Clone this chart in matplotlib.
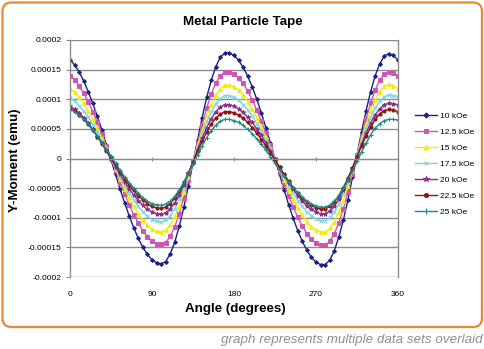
import numpy as np
import matplotlib
matplotlib.use("Agg")
import matplotlib.pyplot as plt
from matplotlib.patches import FancyBboxPatch

# ---- data (Y-moment in micro-emu, every 5 degrees) ----
angle = list(range(0, 361, 5))
series_labels = ["10 kOe", "12.5 kOe", "15 kOe", "17.5 kOe", "20 kOe", "22.5 kOe", "25 kOe"]
y_10 = [167,158,146,131,113,93,71,48,23,-2,-27,-52,-75,-97,-117,-135,-150,-162,-171,-176,-178,-174,-161,-141,-114,-82,-46,-7,31,69,103,132,155,171,178,178,174,166,154,139,121,100,77,52,26,0,-27,-53,-78,-101,-122,-140,-155,-167,-175,-179,-179,-172,-156,-133,-104,-70,-32,6,45,81,113,140,160,173,177,174,166]
y_12 = [140,133,123,110,96,79,61,41,21,0,-20,-41,-60,-78,-95,-109,-122,-132,-139,-144,-145,-142,-131,-115,-93,-66,-37,-5,26,57,85,109,127,140,146,146,143,136,127,114,99,82,63,43,22,0,-22,-43,-63,-82,-99,-114,-127,-136,-143,-146,-146,-140,-127,-109,-85,-57,-26,6,37,67,94,116,132,143,146,144,139]
y_15 = [118,112,103,93,80,66,51,34,17,0,-18,-35,-52,-67,-81,-94,-104,-113,-119,-123,-124,-121,-112,-98,-80,-57,-32,-5,22,47,71,91,107,118,124,124,121,115,107,96,84,69,53,36,18,0,-18,-36,-53,-69,-84,-96,-107,-115,-121,-124,-124,-118,-107,-91,-71,-47,-21,6,33,58,81,99,113,122,125,123,118]
y_17 = [102,97,89,80,70,57,44,30,15,0,-16,-30,-45,-58,-70,-81,-90,-97,-103,-106,-107,-104,-97,-85,-69,-50,-28,-5,18,40,61,78,92,101,106,106,103,98,91,82,72,59,46,31,16,1,-15,-30,-45,-58,-71,-81,-90,-97,-102,-105,-105,-100,-91,-77,-60,-40,-17,6,28,50,69,85,97,104,107,106,104]
y_20 = [88,83,77,69,60,49,37,25,12,-1,-14,-27,-40,-51,-62,-71,-79,-86,-90,-93,-94,-92,-85,-75,-61,-44,-25,-6,15,34,52,67,79,87,91,91,88,84,78,70,61,50,39,26,13,-1,-15,-28,-41,-52,-63,-72,-80,-86,-90,-93,-93,-89,-81,-69,-53,-36,-16,4,24,43,60,74,84,91,93,92,91]
y_22 = [84,80,74,67,58,48,37,26,14,2,-10,-22,-34,-45,-54,-63,-70,-76,-81,-83,-84,-82,-76,-67,-55,-40,-24,-6,12,29,44,58,68,75,79,79,77,73,68,61,52,43,32,21,9,-3,-15,-27,-38,-49,-58,-67,-74,-79,-83,-85,-85,-81,-74,-63,-49,-33,-16,3,21,38,53,66,75,81,83,82,79]
y_25 = [83,79,73,66,58,48,38,27,15,4,-8,-20,-31,-41,-50,-59,-66,-72,-76,-78,-79,-77,-72,-64,-53,-40,-25,-10,6,21,35,47,56,63,66,66,64,61,56,49,42,33,24,14,3,-8,-19,-30,-40,-49,-58,-65,-72,-77,-80,-82,-82,-79,-72,-63,-50,-36,-21,-5,11,26,40,51,59,64,66,66,65]
x_ticks = [0, 90, 180, 270, 360]
y_ticks = [0.0002, 0.00015, 0.0001, 0.00005, 0, -0.00005, -0.0001, -0.00015, -0.0002]
y_ticklabels = ["0.0002", "0.00015", "0.0001", "0.00005", "0", "-0.00005", "-0.0001", "-0.00015", "-0.0002"]

series = [y_10, y_12, y_15, y_17, y_20, y_22, y_25]
colors = ["#1C2280", "#CF55B5", "#F2EE00", "#7AD3E6", "#8E2E8E", "#8A1818", "#178A8A"]
markers = ["D", "s", "^", "x", "*", "o", "+"]
msizes = [2.0, 2.2, 2.6, 2.6, 3.0, 2.3, 2.8]

plt.rcParams["font.family"] = ["Liberation Sans", "DejaVu Sans"]
W, H = 485, 349
fig = plt.figure(figsize=(W / 100, H / 100), dpi=100)

# background frame in pixel coordinates
bg = fig.add_axes([0, 0, 1, 1])
bg.set_xlim(0, W)
bg.set_ylim(H, 0)
bg.axis("off")
bg.add_patch(FancyBboxPatch((2.5, 2.5), 479.5, 324.5,
                            boxstyle="round,pad=0,rounding_size=9",
                            fc="white", ec="#E98A2E", lw=1.6))

ax = fig.add_axes([70 / W, 1 - 277 / H, 328 / W, 237 / H])
ax.set_zorder(2)
ax.patch.set_alpha(0)
for yv, c, m, ms, lab in zip(series, colors, markers, msizes, series_labels):
    ax.plot(angle, np.array(yv) * 1e-6, color=c, lw=1.0, marker=m, ms=ms,
            mew=0.7, mfc=c, mec=c, label=lab)

ax.set_xlim(0, 360)
ax.set_ylim(-0.0002, 0.0002)
ax.set_yticks(y_ticks)
ax.set_yticklabels(y_ticklabels, fontsize=6.1)
ax.yaxis.grid(True, color="#8C8C8C", lw=1)
ax.set_axisbelow(True)
for s in ["left", "right"]:
    ax.spines[s].set_color("#8C8C8C")
    ax.spines[s].set_linewidth(1)
ax.spines["top"].set_visible(False)
ax.spines["bottom"].set_position(("data", 0))
ax.spines["bottom"].set_color("#8C8C8C")
ax.set_xticks(x_ticks)
ax.tick_params(axis="x", which="both", direction="inout", length=3, color="#8C8C8C",
               labelbottom=False)
ax.tick_params(axis="y", direction="out", length=3, color="#8C8C8C", pad=3)

sec = ax.secondary_xaxis("bottom")
sec.spines["bottom"].set_visible(False)
sec.set_xticks(x_ticks)
sec.set_xticklabels([str(v) for v in x_ticks], fontsize=6.0)
sec.tick_params(length=0, pad=10)

fig.text(243 / W, 1 - 21.7 / H, "Metal Particle Tape", ha="center", va="center",
         fontsize=9.6, fontweight="bold")
fig.text(235 / W, 1 - 309 / H, "Angle (degrees)", ha="center", va="center",
         fontsize=9.6, fontweight="bold")
fig.text(15 / W, 1 - 160 / H, "Y-Moment (emu)", ha="center", va="center",
         rotation=90, fontsize=9.6, fontweight="bold")
fig.text(483 / W, 1 - 340 / H, "graph represents multiple data sets overlaid",
         ha="right", va="center", fontsize=9.6, style="italic", color="#8E8E8E")

leg = ax.legend(loc="upper left", bbox_to_anchor=(415 / W, 1 - 112.5 / H),
                bbox_transform=fig.transFigure, frameon=False, fontsize=6.0,
                handlelength=2.6, handletextpad=0.35, labelspacing=0.98,
                borderpad=0, borderaxespad=0, markerscale=1.3)

fig.savefig("out.png", dpi=100)
